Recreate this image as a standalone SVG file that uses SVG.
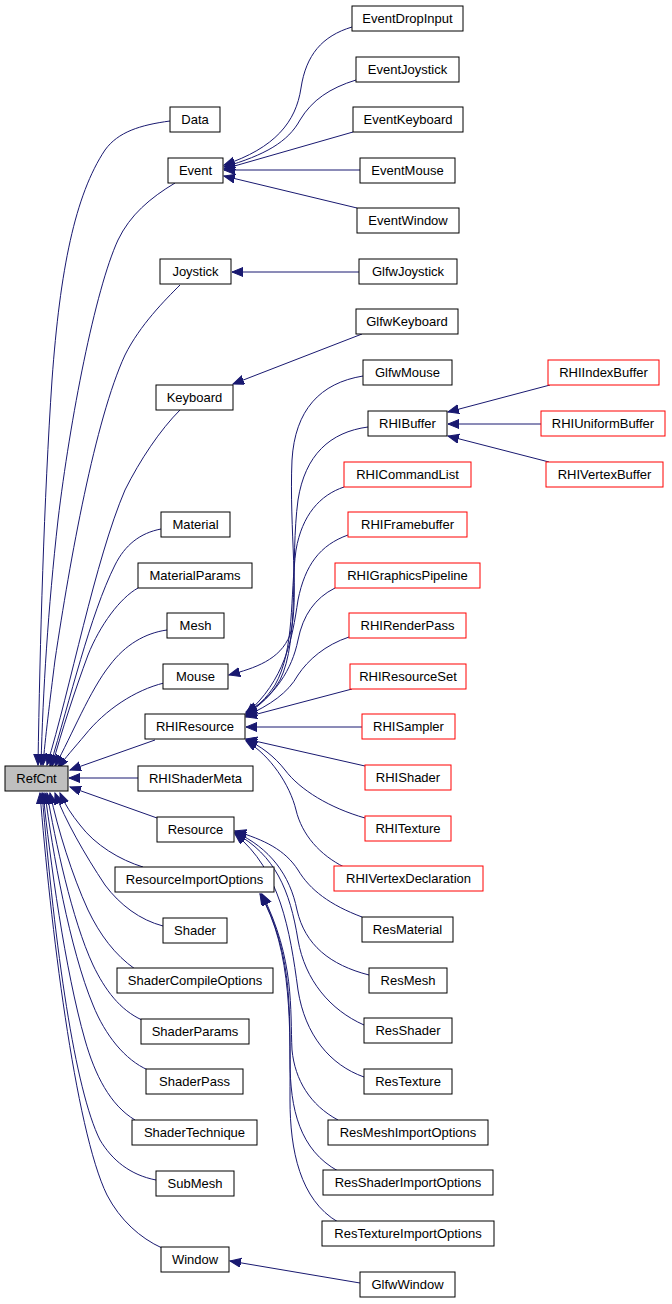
<svg xmlns="http://www.w3.org/2000/svg" width="672" height="1304" viewBox="0 0 672 1304">
<style>
.n rect{fill:#fff;stroke:#000;stroke-width:1}
.n.r rect{stroke:#f00}
.n.root rect{fill:#bfbfbf}
.n text{font-family:"Liberation Sans",Arial,sans-serif;font-size:13px;fill:#000;text-anchor:middle}
#edges path{fill:none;stroke:#191970;stroke-width:1;marker-end:url(#ah)}
</style>
<defs>
<marker id="ah" markerWidth="12" markerHeight="10" refX="11" refY="4.5" orient="auto" markerUnits="userSpaceOnUse">
<path d="M0,0 L11,4.5 L0,9 z" fill="#191970" stroke="#191970"/>
</marker>
</defs>
<rect width="672" height="1304" fill="#fff"/>
<g id="edges">
<path d="M170,121 C140,125 118,132 105,150 C75,195 60,270 52,380 C44,500 40,640 38,765"/>
<path d="M175,183 C150,198 130,215 118,240 C95,290 70,420 58,520 C48,610 43,690 41,765"/>
<path d="M180,285 C165,300 140,325 125,355 C95,420 70,560 55,660 C50,700 45,740 43,765"/>
<path d="M180,410 C160,430 140,460 125,490 C95,560 70,690 47,765"/>
<path d="M161,529 C140,533 125,545 115,565 C90,615 70,700 50,766"/>
<path d="M138,588 C120,598 100,625 88,655 C75,690 62,730 52,766"/>
<path d="M167,630 C145,633 125,645 110,665 C90,690 72,735 55,766"/>
<path d="M164,683 C135,690 105,710 85,735 C75,747 65,758 58,768"/>
<path d="M155,740 L70,770"/>
<path d="M138,778 L69,778"/>
<path d="M157,818 L70,787"/>
<path d="M143,867 C120,860 95,845 80,825 C72,815 65,805 60,793"/>
<path d="M163,926 C140,920 120,905 105,885 C85,855 65,820 55,793"/>
<path d="M135,969 C115,955 100,935 88,910 C72,875 58,830 50,793"/>
<path d="M142,1020 C120,1010 105,990 93,965 C72,920 55,840 47,793"/>
<path d="M148,1070 C125,1060 105,1035 93,1005 C70,950 52,850 45,793"/>
<path d="M135,1120 C110,1105 95,1075 85,1040 C65,970 50,860 43,793"/>
<path d="M156,1180 C130,1175 112,1160 100,1140 C75,1090 55,950 42,793"/>
<path d="M162,1248 C140,1238 120,1220 107,1195 C75,1130 50,920 40,793"/>
<path d="M352,27 C322,36 306,55 301,88 C296,122 275,148 224,165"/>
<path d="M356,80 C330,88 312,100 300,120 C288,142 265,155 224,167"/>
<path d="M353,132 L224,169"/>
<path d="M360,170 L224,170"/>
<path d="M357,208 L224,176"/>
<path d="M359,272 L232,272"/>
<path d="M362,334 L233,384"/>
<path d="M363,376 C320,383 295,410 292,460 C289,530 300,600 290,635 C280,660 255,668 229,675"/>
<path d="M368,427 C330,432 305,455 298,500 C290,560 300,640 280,680 C270,697 260,705 246,712"/>
<path d="M344,487 C320,495 302,515 296,550 C290,595 295,650 275,685 C265,700 258,706 246,713"/>
<path d="M348,535 C320,545 305,565 298,600 C292,640 285,680 246,714"/>
<path d="M335,588 C315,598 303,615 298,640 C292,670 275,695 246,715"/>
<path d="M349,637 C325,645 308,660 298,675 C288,693 270,705 246,716"/>
<path d="M352,689 L246,717"/>
<path d="M362,727 L246,727"/>
<path d="M365,766 L246,739"/>
<path d="M365,818 C330,808 300,790 285,770 C275,757 260,745 246,740"/>
<path d="M344,867 C320,855 302,835 296,810 C290,785 270,755 246,741"/>
<path d="M362,917 C330,905 310,890 298,870 C285,850 265,840 235,831"/>
<path d="M369,975 C330,965 305,945 297,910 C290,875 270,848 235,832"/>
<path d="M364,1025 C330,1010 305,980 298,940 C290,890 275,855 235,833"/>
<path d="M364,1077 C330,1065 305,1035 298,990 C290,930 280,870 235,834"/>
<path d="M338,1120 C310,1105 295,1080 292,1050 C290,1010 295,960 262,894"/>
<path d="M338,1171 C300,1150 290,1110 290,1060 C290,1000 290,950 261,894"/>
<path d="M338,1222 C300,1200 290,1150 290,1100 C290,1030 293,950 260,894"/>
<path d="M550,385 L448,412"/>
<path d="M541,424 L448,424"/>
<path d="M549,462 L448,436"/>
<path d="M360,1283 L230,1261"/>
</g>
<g id="RefCnt" class="n root"><rect x="5" y="766" width="63" height="25"/><text x="36.5" y="783">RefCnt</text></g>
<g id="Data" class="n"><rect x="170" y="107" width="50" height="25"/><text x="195" y="124">Data</text></g>
<g id="Event" class="n"><rect x="168" y="158" width="55" height="25"/><text x="195.5" y="175">Event</text></g>
<g id="Joystick" class="n"><rect x="160" y="259" width="71" height="25"/><text x="195.5" y="276">Joystick</text></g>
<g id="Keyboard" class="n"><rect x="156" y="385" width="77" height="25"/><text x="194.5" y="402">Keyboard</text></g>
<g id="Material" class="n"><rect x="161" y="512" width="69" height="25"/><text x="195.5" y="529">Material</text></g>
<g id="MaterialParams" class="n"><rect x="138" y="563" width="114" height="25"/><text x="195" y="580">MaterialParams</text></g>
<g id="Mesh" class="n"><rect x="167" y="613" width="57" height="25"/><text x="195.5" y="630">Mesh</text></g>
<g id="Mouse" class="n"><rect x="163" y="664" width="65" height="25"/><text x="195.5" y="681">Mouse</text></g>
<g id="RHIResource" class="n"><rect x="145" y="714" width="100" height="25"/><text x="195" y="731">RHIResource</text></g>
<g id="RHIShaderMeta" class="n"><rect x="138" y="766" width="115" height="25"/><text x="195.5" y="783">RHIShaderMeta</text></g>
<g id="Resource" class="n"><rect x="157" y="817" width="77" height="25"/><text x="195.5" y="834">Resource</text></g>
<g id="ResourceImportOptions" class="n"><rect x="115" y="867" width="159" height="25"/><text x="194.5" y="884">ResourceImportOptions</text></g>
<g id="Shader" class="n"><rect x="163" y="918" width="64" height="25"/><text x="195" y="935">Shader</text></g>
<g id="ShaderCompileOptions" class="n"><rect x="117" y="968" width="156" height="25"/><text x="195" y="985">ShaderCompileOptions</text></g>
<g id="ShaderParams" class="n"><rect x="141" y="1019" width="108" height="25"/><text x="195" y="1036">ShaderParams</text></g>
<g id="ShaderPass" class="n"><rect x="146" y="1069" width="97" height="25"/><text x="194.5" y="1086">ShaderPass</text></g>
<g id="ShaderTechnique" class="n"><rect x="132" y="1120" width="125" height="25"/><text x="194.5" y="1137">ShaderTechnique</text></g>
<g id="SubMesh" class="n"><rect x="156" y="1171" width="78" height="25"/><text x="195" y="1188">SubMesh</text></g>
<g id="Window" class="n"><rect x="161" y="1247" width="68" height="25"/><text x="195" y="1264">Window</text></g>
<g id="EventDropInput" class="n"><rect x="352" y="6" width="111" height="25"/><text x="407.5" y="23">EventDropInput</text></g>
<g id="EventJoystick" class="n"><rect x="356" y="57" width="103" height="25"/><text x="407.5" y="74">EventJoystick</text></g>
<g id="EventKeyboard" class="n"><rect x="353" y="107" width="110" height="25"/><text x="408" y="124">EventKeyboard</text></g>
<g id="EventMouse" class="n"><rect x="360" y="158" width="95" height="25"/><text x="407.5" y="175">EventMouse</text></g>
<g id="EventWindow" class="n"><rect x="357" y="208" width="102" height="25"/><text x="408" y="225">EventWindow</text></g>
<g id="GlfwJoystick" class="n"><rect x="359" y="259" width="98" height="25"/><text x="408" y="276">GlfwJoystick</text></g>
<g id="GlfwKeyboard" class="n"><rect x="356" y="309" width="102" height="25"/><text x="407" y="326">GlfwKeyboard</text></g>
<g id="GlfwMouse" class="n"><rect x="363" y="360" width="89" height="25"/><text x="407.5" y="377">GlfwMouse</text></g>
<g id="RHIBuffer" class="n"><rect x="368" y="411" width="79" height="25"/><text x="407.5" y="428">RHIBuffer</text></g>
<g id="RHICommandList" class="n r"><rect x="344" y="462" width="127" height="25"/><text x="407.5" y="479">RHICommandList</text></g>
<g id="RHIFramebuffer" class="n r"><rect x="348" y="512" width="119" height="25"/><text x="407.5" y="529">RHIFramebuffer</text></g>
<g id="RHIGraphicsPipeline" class="n r"><rect x="335" y="563" width="145" height="25"/><text x="407.5" y="580">RHIGraphicsPipeline</text></g>
<g id="RHIRenderPass" class="n r"><rect x="349" y="613" width="117" height="25"/><text x="407.5" y="630">RHIRenderPass</text></g>
<g id="RHIResourceSet" class="n r"><rect x="350" y="664" width="116" height="25"/><text x="408" y="681">RHIResourceSet</text></g>
<g id="RHISampler" class="n r"><rect x="362" y="714" width="93" height="25"/><text x="408.5" y="731">RHISampler</text></g>
<g id="RHIShader" class="n r"><rect x="365" y="765" width="86" height="25"/><text x="408" y="782">RHIShader</text></g>
<g id="RHITexture" class="n r"><rect x="365" y="816" width="86" height="25"/><text x="408" y="833">RHITexture</text></g>
<g id="RHIVertexDeclaration" class="n r"><rect x="334" y="866" width="149" height="25"/><text x="408.5" y="883">RHIVertexDeclaration</text></g>
<g id="ResMaterial" class="n"><rect x="362" y="917" width="91" height="25"/><text x="407.5" y="934">ResMaterial</text></g>
<g id="ResMesh" class="n"><rect x="369" y="968" width="78" height="25"/><text x="408" y="985">ResMesh</text></g>
<g id="ResShader" class="n"><rect x="364" y="1018" width="88" height="25"/><text x="408" y="1035">ResShader</text></g>
<g id="ResTexture" class="n"><rect x="364" y="1069" width="88" height="25"/><text x="408" y="1086">ResTexture</text></g>
<g id="ResMeshImportOptions" class="n"><rect x="328" y="1120" width="160" height="25"/><text x="408" y="1137">ResMeshImportOptions</text></g>
<g id="ResShaderImportOptions" class="n"><rect x="323" y="1170" width="170" height="25"/><text x="408" y="1187">ResShaderImportOptions</text></g>
<g id="ResTextureImportOptions" class="n"><rect x="322" y="1221" width="172" height="25"/><text x="408" y="1238">ResTextureImportOptions</text></g>
<g id="GlfwWindow" class="n"><rect x="360" y="1272" width="95" height="25"/><text x="407.5" y="1289">GlfwWindow</text></g>
<g id="RHIIndexBuffer" class="n r"><rect x="548" y="360" width="111" height="25"/><text x="603.5" y="377">RHIIndexBuffer</text></g>
<g id="RHIUniformBuffer" class="n r"><rect x="541" y="411" width="124" height="25"/><text x="603" y="428">RHIUniformBuffer</text></g>
<g id="RHIVertexBuffer" class="n r"><rect x="546" y="462" width="117" height="25"/><text x="604.5" y="479">RHIVertexBuffer</text></g>
</svg>
